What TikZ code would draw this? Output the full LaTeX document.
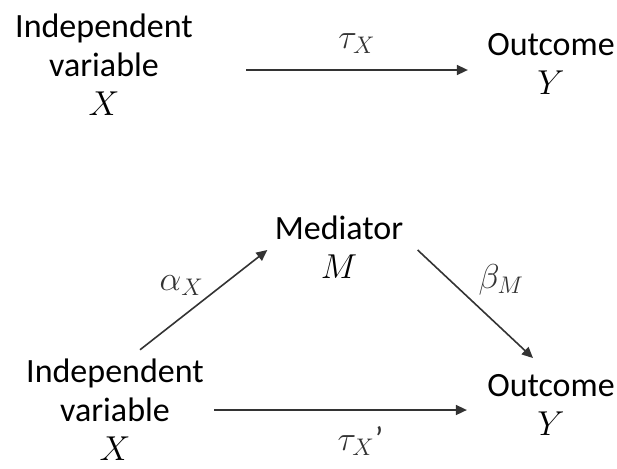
\documentclass[tikz,border=0pt]{standalone}
\usepackage{fontspec}
\setmainfont{Carlito}
\usetikzlibrary{arrows.meta,positioning}
\definecolor{cmline}{HTML}{333333}

\begin{document}
\begin{tikzpicture}[x=0.5pt,y=-0.5pt,
  vnode/.style={align=center,inner sep=0pt,font=\fontsize{17}{19.5}\selectfont},
  lbl/.style={inner sep=0pt,font=\fontsize{17}{19.5}\selectfont},
  arr/.style={-{Triangle[length=5.5pt,width=5pt]},color=cmline,line width=0.8pt}]
\useasboundingbox (0,0) rectangle (617,468);
% total effect
\node[vnode] (ivA) at (104,65) {Independent\\variable\\$X$};
\node[vnode] (yA) at (551,64) {Outcome\\$Y$};
\draw[arr] ([xshift=26.5pt,yshift=-2.5pt]ivA.east) -- ([xshift=-9.5pt,yshift=-3pt]yA.west)
  node[lbl,midway,above=8pt] (tauA) {$\tau_X$};
% mediation
\node[vnode] (med) at (339,247) {Mediator\\$M$};
\node[vnode] (ivB) at (115,410) {Independent\\variable\\$X$};
\node[vnode] (yB) at (551,405) {Outcome\\$Y$};
\draw[arr] ([xshift=12.5pt,yshift=4.5pt]ivB.north) -- ([xshift=-3.5pt,yshift=-1.5pt]med.west)
  node[lbl,midway,xshift=-11pt,yshift=7pt] (alpha) {$\alpha_X$};
\draw[arr] ([xshift=7pt,yshift=-1.5pt]med.east) -- ([xshift=-9pt,yshift=8pt]yB.north)
  node[lbl,midway,xshift=13pt,yshift=12pt] (beta) {$\beta_M$};
\draw[arr] ([xshift=5pt,yshift=0pt]ivB.east) -- ([xshift=-10pt,yshift=-2.5pt]yB.west)
  node[lbl,midway,xshift=10pt,yshift=-15.5pt] (tauB) {$\tau_X$’};
\end{tikzpicture}
\end{document}
